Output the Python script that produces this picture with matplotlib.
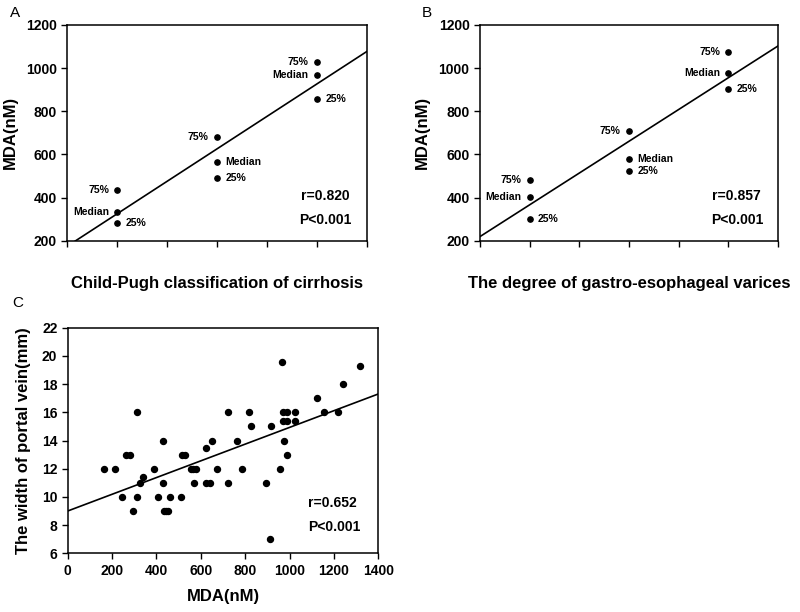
import matplotlib
matplotlib.use("Agg")
import matplotlib.pyplot as plt
import numpy as np

plt.rcParams['font.family'] = ['Liberation Sans', 'DejaVu Sans']

# ---- panel A: Child-Pugh class vs MDA (25%, median, 75%)
grupos_a = ['A', 'B', 'C']
p25_a = [280, 492, 858]
med_a = [331, 563, 967]
p75_a = [435, 681, 1027]

# ---- panel B: varices degree vs MDA
grupos_b = ['Mild', 'Moderate', 'Severe']
p25_b = [300, 523, 903]
med_b = [404, 580, 976]
p75_b = [481, 708, 1073]

# ---- panel C: MDA vs width of portal vein
mda_c = [165, 213, 243, 263, 281, 293, 311, 314, 326, 341, 390, 406, 428, 431,
         435, 444, 453, 460, 509, 514, 529, 556, 566, 578, 571, 622, 624, 641,
         649, 673, 724, 724, 764, 787, 818, 826, 892, 910, 916, 957, 967, 969,
         987, 1024, 969, 987, 1024, 975, 987, 1122, 1155, 1219, 1240, 1317]
vena_c = [12, 12, 10, 13, 13, 9, 16, 10, 11, 11.4, 12, 10, 14, 11,
          9, 9, 9, 10, 10, 13, 13, 12, 12, 12, 11, 13.5, 11, 11,
          14, 12, 16, 11, 14, 12, 16, 15, 11, 7, 15, 12, 19.6, 16,
          16, 16, 15.4, 15.4, 15.4, 14, 13, 17, 16, 16, 18, 19.3]
# regression line of panel C (intercept, slope)
linea_c = (9.0, 0.00593)


def panel_categorias(ax, grupos, p25, med, p75, xlabel, stats):
    x = np.arange(1, len(grupos) + 1)
    for vals in (p25, med, p75):
        ax.plot(x, vals, 'o', color='black', ms=3.8, zorder=3)
    # regression over all the points
    xs = np.concatenate([x, x, x])
    ys = np.concatenate([p25, med, p75])
    m, b = np.polyfit(xs, ys, 1)
    xl = np.array([0.5, 3.5])
    ax.plot(xl, b + m * xl, color='black', lw=1.2)
    for i in range(len(grupos)):
        ax.annotate('75%', (x[i], p75[i]), xytext=(-6, 0), textcoords='offset points',
                    ha='right', va='center', fontsize=7.5, fontweight='bold')
        if i == 1:
            ax.annotate('Median', (x[i], med[i]), xytext=(6, 0), textcoords='offset points',
                        ha='left', va='center', fontsize=7.5, fontweight='bold')
        else:
            ax.annotate('Median', (x[i], med[i]), xytext=(-6, 0), textcoords='offset points',
                        ha='right', va='center', fontsize=7.5, fontweight='bold')
        ax.annotate('25%', (x[i], p25[i]), xytext=(6, 0), textcoords='offset points',
                    ha='left', va='center', fontsize=7.5, fontweight='bold')
    ax.set_xlim(0.5, 3.5)
    ax.set_ylim(200, 1200)
    ax.set_xticks(np.arange(0.5, 3.6, 0.5))
    ax.set_xticklabels([])
    ax.set_xticks(x, minor=True)
    ax.set_xticklabels(grupos, minor=True)
    ax.tick_params(axis='x', which='minor', length=0, pad=8)
    ax.set_yticks(np.arange(200, 1201, 200))
    ax.set_ylabel('MDA(nM)', fontsize=12, fontweight='bold', labelpad=6)
    ax.set_xlabel(xlabel, fontsize=12, fontweight='bold', labelpad=18)
    ax.text(0.78, 0.207, stats[0], transform=ax.transAxes, fontsize=10,
            fontweight='bold', va='center')
    ax.text(0.775, 0.096, stats[1], transform=ax.transAxes, fontsize=10,
            fontweight='bold', va='center')


def estilo(ax):
    for s in ax.spines.values():
        s.set_linewidth(1.1)
    ax.tick_params(which='major', direction='out', length=4, width=1, labelsize=10)
    ax.tick_params(which='minor', labelsize=10)
    for t in ax.get_xticklabels(which='both') + ax.get_yticklabels():
        t.set_fontweight('bold')


fig = plt.figure(figsize=(8, 6.12), dpi=100)

ax1 = fig.add_axes([0.0841, 0.6067, 0.3746, 0.3525])
panel_categorias(ax1, grupos_a, p25_a, med_a, p75_a,
                 'Child-Pugh classification of cirrhosis', ('r=0.820', 'P<0.001'))
estilo(ax1)

ax2 = fig.add_axes([0.6, 0.6067, 0.3725, 0.3525])
panel_categorias(ax2, grupos_b, p25_b, med_b, p75_b,
                 'The degree of gastro-esophageal varices', ('r=0.857', 'P<0.001'))
estilo(ax2)

ax3 = fig.add_axes([0.0846, 0.0959, 0.3883, 0.3686])
ax3.plot(mda_c, vena_c, 'o', color='black', ms=4.3, zorder=3)
xl = np.array([0, 1400])
ax3.plot(xl, linea_c[0] + linea_c[1] * xl, color='black', lw=1.2)
ax3.set_xlim(0, 1400)
ax3.set_ylim(6, 22)
ax3.set_xticks(np.arange(0, 1401, 200))
ax3.set_yticks(np.arange(6, 23, 2))
ax3.set_xlabel('MDA(nM)', fontsize=12, fontweight='bold', labelpad=8)
ax3.set_ylabel('The width of portal vein(mm)', fontsize=12, fontweight='bold', labelpad=8)
ax3.text(0.775, 0.222, 'r=0.652', transform=ax3.transAxes, fontsize=10,
         fontweight='bold', va='center')
ax3.text(0.775, 0.118, 'P<0.001', transform=ax3.transAxes, fontsize=10,
         fontweight='bold', va='center')
estilo(ax3)

# letras de los paneles
fig.text(0.0125, 0.979, 'A', fontsize=11, va='center')
fig.text(0.5275, 0.979, 'B', fontsize=11, va='center')
fig.text(0.015, 0.505, 'C', fontsize=11, va='center')

fig.savefig('out.png', dpi=100)
